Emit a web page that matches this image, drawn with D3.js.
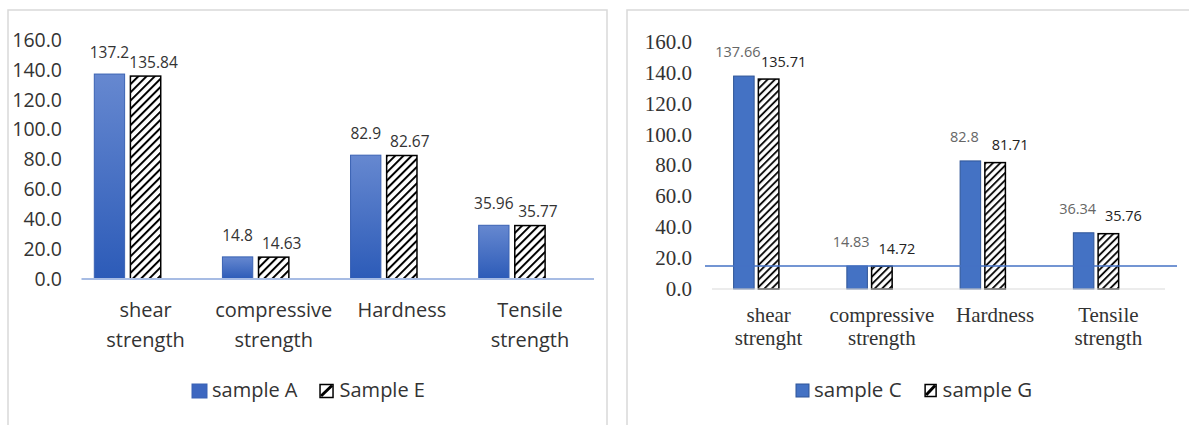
<!DOCTYPE html>
<html>
<head>
<meta charset="utf-8">
<script src="https://cdn.jsdelivr.net/npm/d3@7"></script>
<style>
  body { margin: 0; background: #fff; }
  svg { display: block; }
</style>
</head>
<body>
<svg id="chart" width="1189" height="425"></svg>
<script>
// ---- data ----
const categoriesLeft = [["shear", "strength"], ["compressive", "strength"], ["Hardness"], ["Tensile", "strength"]];
const categoriesRight = [["shear", "strenght"], ["compressive", "strength"], ["Hardness"], ["Tensile", "strength"]];
const sampleA = [137.2, 14.8, 82.9, 35.96];
const sampleE = [135.84, 14.63, 82.67, 35.77];
const sampleC = [137.66, 14.83, 82.8, 36.34];
const sampleG = [135.71, 14.72, 81.71, 35.76];
const seriesNamesLeft = ["sample A", "Sample E"];
const seriesNamesRight = ["sample C", "sample G"];
const yTicks = [0, 20, 40, 60, 80, 100, 120, 140, 160];
const referenceRight = 14.8;

const svg = d3.select("#chart");
const defs = svg.append("defs");

// vertical blue gradient for the solid bars of the first panel
const grad = defs.append("linearGradient").attr("id", "blueGrad")
  .attr("x1", 0).attr("y1", 0).attr("x2", 0).attr("y2", 1);
grad.append("stop").attr("offset", "0%").attr("stop-color", "#6688d0");
grad.append("stop").attr("offset", "100%").attr("stop-color", "#2c5bb8");

// diagonal hatching for the second series
function hatch(id, spacing, width) {
  const p = defs.append("pattern").attr("id", id)
    .attr("patternUnits", "userSpaceOnUse")
    .attr("width", spacing).attr("height", spacing)
    .attr("patternTransform", "rotate(45)");
  p.append("rect").attr("width", spacing).attr("height", spacing).attr("fill", "#fff");
  p.append("line").attr("x1", 1).attr("y1", 0).attr("x2", 1).attr("y2", spacing)
    .attr("stroke", "#000").attr("stroke-width", width);
}
hatch("hatchL", 5.8, 2);
hatch("hatchR", 5.2, 1.8);

function drawPanel(o) {
  const g = svg.append("g");

  g.append("rect")
    .attr("x", o.frame[0]).attr("y", o.frame[1])
    .attr("width", o.frame[2]).attr("height", o.frame[3])
    .attr("fill", "#fff").attr("stroke", "#d9d9d9").attr("stroke-width", 1.5);

  const x = d3.scaleBand().domain(d3.range(o.categories.length)).range(o.xRange);
  const y = d3.scaleLinear().domain([0, 160]).range(o.yRange);
  const bw = x.bandwidth();
  // three slots per category; the last one stays empty
  const x1 = d3.scaleBand().domain(["s0", "s1", "s2"])
    .range([o.groupPad, bw - o.groupPad]).paddingInner(o.barGap);

  // value axis labels
  const yAxis = d3.axisLeft(y).tickValues(yTicks).tickFormat(d3.format(".1f"))
    .tickSize(0).tickPadding(0);
  const ya = g.append("g").attr("transform", `translate(${o.yLabelX},0)`).call(yAxis);
  ya.select(".domain").remove();
  ya.attr("font-family", o.tickFont).attr("font-size", o.tickSize);
  ya.selectAll("text").attr("fill", "#333");

  // bars
  const series = [o.s0, o.s1];
  series.forEach((vals, si) => {
    g.append("g").selectAll("rect").data(vals).join("rect")
      .attr("x", (d, i) => x(i) + x1("s" + si))
      .attr("y", d => y(d))
      .attr("width", x1.bandwidth())
      .attr("height", d => y(0) - y(d))
      .attr("fill", o.fills[si])
      .attr("stroke", o.strokes[si])
      .attr("stroke-width", o.strokeW[si]);
  });

  // category axis line
  g.append("line")
    .attr("x1", o.xRange[0]).attr("x2", o.xRange[1])
    .attr("y1", y(0)).attr("y2", y(0))
    .attr("stroke", o.baseColor).attr("stroke-width", o.baseWidth);

  // reference line
  if (o.reference != null) {
    g.append("line")
      .attr("x1", o.xRange[0] - 7).attr("x2", o.xRange[1] + 12)
      .attr("y1", y(o.reference)).attr("y2", y(o.reference))
      .attr("stroke", "#4472c4").attr("stroke-width", 1.5);
  }

  // value labels
  series.forEach((vals, si) => {
    const lo = o.labelOffsets[si];
    g.append("g").selectAll("text").data(vals).join("text")
      .attr("x", (d, i) => x(i) + x1("s" + si) + x1.bandwidth() / 2 + lo.dx)
      .attr("y", d => y(d) - lo.dy)
      .attr("text-anchor", "middle")
      .attr("font-family", o.valueFont)
      .attr("font-size", o.valueSize)
      .attr("fill", o.valueColors[si])
      .text(d => String(d));
  });

  // category labels
  const cl = g.append("g").selectAll("text").data(o.categories).join("text")
    .attr("x", (d, i) => x(i) + bw / 2)
    .attr("y", o.catY)
    .attr("text-anchor", "middle")
    .attr("font-family", o.catFont)
    .attr("font-size", o.catSize)
    .attr("fill", "#333");
  cl.selectAll("tspan").data(d => d).join("tspan")
    .attr("x", function () { return d3.select(this.parentNode).attr("x"); })
    .attr("dy", (d, i) => i === 0 ? 0 : o.catLine)
    .text(d => d);

  // legend
  const lg = g.append("g");
  let lx = o.legendX;
  o.names.forEach((name, si) => {
    if (si === 0) {
      lg.append("rect").attr("x", lx).attr("y", o.legendY - 13)
        .attr("width", o.swatch[0]).attr("height", o.swatch[1])
        .attr("fill", o.legendFill).attr("stroke", o.strokes[0]).attr("stroke-width", 1);
    } else {
      lg.append("rect").attr("x", lx + 0.5).attr("y", o.legendY - 12.5)
        .attr("width", o.swatch[0] - 2).attr("height", o.swatch[1] - 1)
        .attr("fill", "#fff").attr("stroke", "#000").attr("stroke-width", 1.5);
      lg.append("line")
        .attr("x1", lx + 1.5).attr("y1", o.legendY + o.swatch[1] - 15)
        .attr("x2", lx + o.swatch[0] - 2.5).attr("y2", o.legendY - 11.5)
        .attr("stroke", "#000").attr("stroke-width", 3);
    }
    const t = lg.append("text")
      .attr("x", lx + o.swatch[0] + 5).attr("y", o.legendY)
      .attr("font-family", o.legendFont).attr("font-size", o.legendSize)
      .attr("fill", "#333").text(name);
    lx += o.swatch[0] + 5 + t.node().getComputedTextLength() + o.legendGap;
  });
}

drawPanel({
  frame: [8, 10, 599, 430],
  categories: categoriesLeft,
  s0: sampleA, s1: sampleE,
  names: seriesNamesLeft,
  xRange: [81.5, 594], yRange: [279, 40],
  groupPad: 12.8, barGap: 0.16,
  yLabelX: 62,
  tickFont: "'Open Sans', sans-serif", tickSize: 19.5,
  fills: ["url(#blueGrad)", "url(#hatchL)"],
  strokes: ["#3a62b3", "#000"], strokeW: [1, 1.5],
  baseColor: "#a7bce4", baseWidth: 2,
  reference: null,
  labelOffsets: [{ dx: 0, dy: 16 }, { dx: 8, dy: 8.5 }],
  valueFont: "'Open Sans', sans-serif", valueSize: 15.5,
  valueColors: ["#333", "#333"],
  catY: 317, catLine: 30, catFont: "'Open Sans', sans-serif", catSize: 20,
  legendX: 192, legendY: 397, swatch: [15, 14], legendGap: 22,
  legendFill: "#3d67c0",
  legendFont: "'Open Sans', sans-serif", legendSize: 20
});

drawPanel({
  frame: [627, 10, 600, 430],
  categories: categoriesRight,
  s0: sampleC, s1: sampleG,
  names: seriesNamesRight,
  xRange: [712, 1165], yRange: [289, 41.5],
  groupPad: 21.6, barGap: 0.17,
  yLabelX: 692,
  tickFont: "'Liberation Serif', serif", tickSize: 21,
  fills: ["#4472c4", "url(#hatchR)"],
  strokes: ["#2f5597", "#000"], strokeW: [1, 1.5],
  baseColor: "#d9d9d9", baseWidth: 1,
  reference: referenceRight,
  labelOffsets: [{ dx: -6, dy: 19 }, { dx: 15, dy: 12.5 }],
  valueFont: "'Open Sans', sans-serif", valueSize: 14.5,
  valueColors: ["#666", "#222"],
  catY: 322, catLine: 23, catFont: "'Liberation Serif', serif", catSize: 21,
  legendX: 796, legendY: 397, swatch: [13, 13], legendGap: 23,
  legendFill: "#4472c4",
  legendFont: "'Open Sans', sans-serif", legendSize: 20.5
});
</script>
</body>
</html>
